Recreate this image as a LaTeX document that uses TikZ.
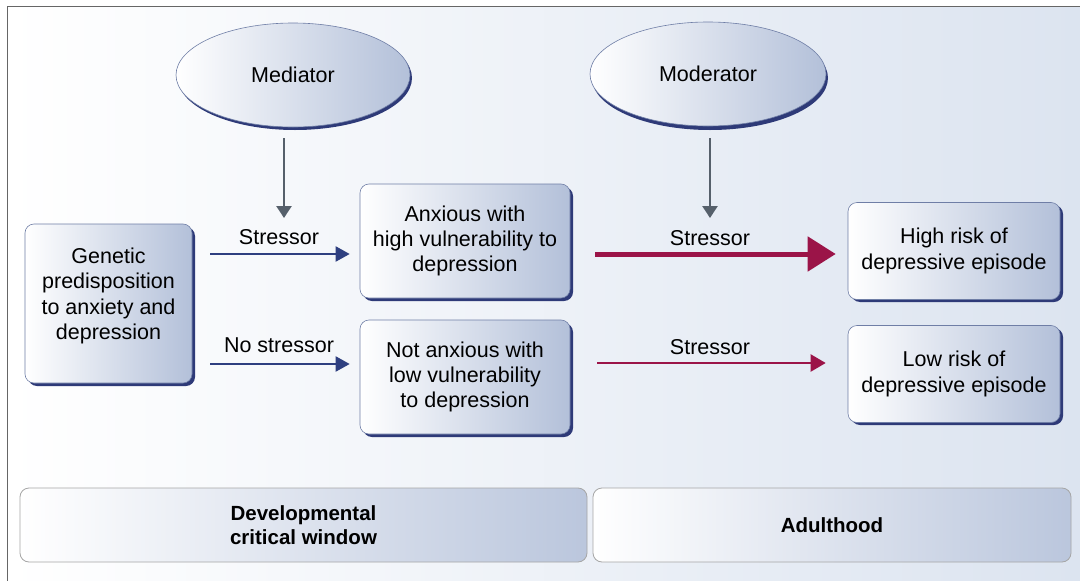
\documentclass[tikz,border=0pt]{standalone}
\usepackage{fontspec}
\setmainfont{Liberation Sans}
\usetikzlibrary{arrows.meta,shapes.geometric,calc}
\definecolor{navy}{HTML}{2E3A78}
\definecolor{boxright}{HTML}{B3C0D9}
\definecolor{boxedge}{HTML}{6F7EA6}
\definecolor{arrblue}{HTML}{2E3F80}
\definecolor{arrred}{HTML}{9B1448}
\definecolor{arrgray}{HTML}{56606B}
\definecolor{bgright}{HTML}{DCE4F0}
\tikzset{
  txt/.style={font=\fontsize{21.5}{25.3}\selectfont, align=center, text=black},
  rbox/.style={txt, rounded corners=9pt, draw=boxedge, line width=0.6pt,
    left color=white, right color=boxright, inner sep=0pt},
  shadowbox/.style={rounded corners=9pt, fill=navy},
  ell/.style={txt, ellipse, draw=boxedge, line width=0.6pt, left color=white, right color=boxright, inner sep=0pt},
  pbox/.style={rounded corners=9pt, draw=gray!70, line width=0.8pt, left color=white, right color=boxright!90,
    inner sep=0pt, align=center, font=\fontsize{20.5}{24}\selectfont\bfseries},
  barrow/.style={draw=arrblue, line width=2pt, -{Triangle[length=14pt,width=15pt]}},
  rthick/.style={draw=arrred, line width=5pt, -{Triangle[length=28pt,width=34pt]}},
  rthin/.style={draw=arrred, line width=2.2pt, -{Triangle[length=15pt,width=17pt]}},
  garrow/.style={draw=arrgray, line width=2.5pt, -{Triangle[length=12pt,width=15pt]}},
  lbl/.style={txt}
}
\begin{document}
\begin{tikzpicture}[x=1pt,y=-1pt]
\useasboundingbox (0,0) rectangle (1080,581);
% background
\shade[left color=white, right color=bgright] (7,6) rectangle (1080,581);
\draw[gray!80!black, line width=1pt] (7,581) -- (7,6) -- (1080,6);

% ellipse shadows
\fill[navy] (295,78) ellipse [x radius=117, y radius=52];
\fill[navy] (710,78) ellipse [x radius=118, y radius=52];
\node[ell, minimum width=234pt, minimum height=104pt] (med) at (293,75) {Mediator};
\node[ell, minimum width=236pt, minimum height=104pt] (mod) at (708,74) {Moderator};

% box shadows
\fill[shadowbox] (28,227) rectangle (195,386);
\fill[shadowbox] (363,187) rectangle (573,301);
\fill[shadowbox] (363,323) rectangle (573,437);
\fill[shadowbox] (851,205) rectangle (1063,302);
\fill[shadowbox] (851,328) rectangle (1063,425);

\node[rbox, minimum width=167pt, minimum height=159pt] (gen) at (108.5,303.5) {};
\node[txt] (gentext) at (108.5,296)
  {Genetic\\predisposition\\to anxiety and\\depression};
\node[rbox, minimum width=210pt, minimum height=114pt] (anx) at (465,241)
  {Anxious with\\high vulnerability to\\depression};
\node[rbox, minimum width=210pt, minimum height=114pt] (nanx) at (465,377)
  {Not anxious with\\low vulnerability\\to depression};
\node[rbox, minimum width=212pt, minimum height=97pt] (high) at (954,251)
  {High risk of\\depressive episode};
\node[rbox, minimum width=212pt, minimum height=97pt] (low) at (954,374)
  {Low risk of\\depressive episode};

\node[pbox, minimum width=567pt, minimum height=74pt] (dev) at (303.5,525)
  {Developmental\\critical window};
\node[pbox, minimum width=478pt, minimum height=74pt] (adult) at (832,525)
  {Adulthood};

% labels
\node[lbl] (ls1) at (279,237) {Stressor};
\node[lbl] (ls2) at (279,345) {No stressor};
\node[lbl] (ls3) at (710,238) {Stressor};
\node[lbl] (ls4) at (710,347) {Stressor};

% arrows
\draw[barrow] ([xshift=18pt]gen.east |- 0,254) -- ([xshift=-10pt]anx.west |- 0,254);
\draw[barrow] ([xshift=18pt]gen.east |- 0,364) -- ([xshift=-10pt]nanx.west |- 0,364);
\draw[rthick] ([xshift=25pt]anx.east |- 0,254) -- ([xshift=-12pt]high.west |- 0,254);
\draw[rthin] ([xshift=27pt]nanx.east |- 0,363) -- ([xshift=-22pt]low.west |- 0,363);
\draw[garrow] ([xshift=-9pt]med.south |- 0,138) -- ([xshift=-9pt]med.south |- 0,218);
\draw[garrow] ([xshift=2pt]mod.south |- 0,138) -- ([xshift=2pt]mod.south |- 0,218);
\end{tikzpicture}
\end{document}
